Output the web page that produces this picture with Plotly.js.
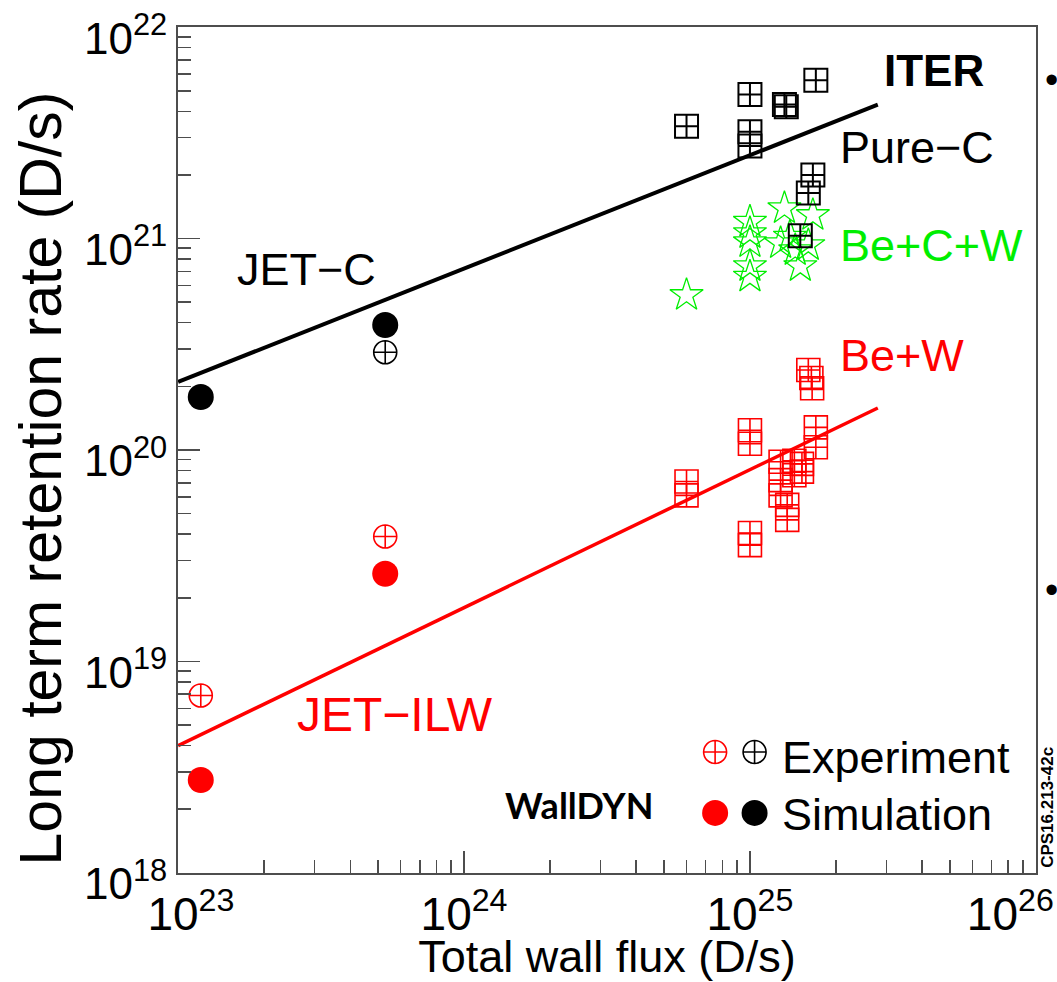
<!DOCTYPE html>
<html>
<head>
<meta charset="utf-8">
<script src="https://cdn.plot.ly/plotly-3.0.1.min.js"></script>
<style>
  html, body { margin: 0; padding: 0; background: #fff; }
  #chart { width: 1057px; height: 982px; }
</style>
</head>
<body>
<div id="chart"></div>
<script>
// ---------------- Data ----------------
// Pure-C experiments (JET-C extrapolated to ITER) - black squares
const pureCx = [6.0e24, 1.0e25, 1.0e25, 1.0e25, 1.32e25, 1.34e25, 1.7e25, 1.66e25, 1.6e25, 1.5e25];
const pureCy = [3.4e21, 4.8e21, 3.2e21, 2.74e21, 4.3e21, 4.2e21, 5.6e21, 2.0e21, 1.64e21, 1.03e21];

// Be+C+W - green stars
const beCWx = [6.0e24, 1.0e25, 1.0e25, 1.0e25, 1.0e25, 1.0e25, 1.32e25, 1.28e25, 1.44e25, 1.5e25, 1.66e25, 1.6e25, 1.38e25];
const beCWy = [5.4e20, 1.2e21, 1.06e21, 9.6e20, 7.4e20, 6.6e20, 1.39e21, 9.5e20, 8.8e20, 7.4e20, 1.29e21, 9.3e20, 1.02e21];

// Be+W - red squares
const beWx = [6.0e24, 6.0e24, 1.0e25, 1.0e25, 1.0e25, 1.0e25, 1.28e25, 1.28e25, 1.28e25, 1.35e25, 1.35e25,
              1.43e25, 1.43e25, 1.52e25, 1.52e25, 1.6e25, 1.64e25, 1.65e25, 1.7e25, 1.7e25];
const beWy = [7.1e19, 6.1e19, 1.24e20, 1.07e20, 4.05e19, 3.55e19, 8.8e19, 7.2e19, 6.1e19, 5.5e19, 4.67e19,
              8.9e19, 7.6e19, 8.6e19, 7.9e19, 2.39e20, 2.19e20, 1.96e20, 1.28e20, 1.03e20];

// JET-C (black) experiment and WallDYN simulation
const jetCExpX = [5.3e23];
const jetCExpY = [2.9e20];
const jetCSimX = [1.2e23, 5.3e23];
const jetCSimY = [1.78e20, 3.9e20];

// JET-ILW (red) experiment and WallDYN simulation
const ilwExpX = [1.2e23, 5.3e23];
const ilwExpY = [6.9e18, 3.9e19];
const ilwSimX = [1.2e23, 5.3e23];
const ilwSimY = [2.75e18, 2.6e19];

// Scaling lines (end points)
const fitX = [1e23, 2.8e25];
const fitCY = [2.1e20, 4.3e21];
const fitILWY = [4.0e18, 1.58e20];

// Axis ticks and their labels (edge labels padded so they sit inside the page, as in the reference)
const NB = '\u00a0';
const xTickVals = [1e23, 1e24, 1e25, 1e26];
const xTickText = [NB + NB + '10<sup>23</sup>', '10<sup>24</sup>', '10<sup>25</sup>', '10<sup>26</sup>' + NB + NB + NB + NB];
const yTickVals = [1e18, 1e19, 1e20, 1e21, 1e22];
const yTickText = ['10<sup>18</sup>', '10<sup>19</sup>', '10<sup>20</sup>', '10<sup>21</sup>', '10<sup>22</sup>'];

// ---------------- Styles ----------------
const RED = '#ff0000';
const BLACK = '#000000';
const GREEN = '#00ee00';
const FONT = 'Liberation Sans, Arial, sans-serif';

const traces = [
  { x: fitX, y: fitCY, mode: 'lines', line: { color: BLACK, width: 4 }, hoverinfo: 'skip' },
  { x: fitX, y: fitILWY, mode: 'lines', line: { color: RED, width: 3.5 }, hoverinfo: 'skip' },
  { x: beWx, y: beWy, mode: 'markers',
    marker: { symbol: 'square-cross-open', size: 23, color: RED, line: { color: RED, width: 1.6 } } },
  { x: beCWx, y: beCWy, mode: 'markers',
    marker: { symbol: 'star-open', size: 25, color: GREEN, line: { color: GREEN, width: 1.3 } } },
  { x: pureCx, y: pureCy, mode: 'markers',
    marker: { symbol: 'square-cross-open', size: 23, color: BLACK, line: { color: BLACK, width: 2 } } },
  { x: jetCExpX, y: jetCExpY, mode: 'markers',
    marker: { symbol: 'circle-cross-open', size: 23, color: BLACK, line: { color: BLACK, width: 1.6 } } },
  { x: jetCSimX, y: jetCSimY, mode: 'markers',
    marker: { symbol: 'circle', size: 26, color: BLACK } },
  { x: ilwExpX, y: ilwExpY, mode: 'markers',
    marker: { symbol: 'circle-cross-open', size: 23, color: RED, line: { color: RED, width: 1.6 } } },
  { x: ilwSimX, y: ilwSimY, mode: 'markers',
    marker: { symbol: 'circle', size: 26, color: RED } },
  // legend keys (drawn on a hidden 0..1 overlay axis)
  { x: [0.626, 0.672], y: [0.143, 0.143], xaxis: 'x2', yaxis: 'y2', mode: 'markers',
    marker: { symbol: 'circle-cross-open', size: 23, color: [RED, BLACK], line: { color: [RED, BLACK], width: 1.6 } } },
  { x: [0.626, 0.672], y: [0.071, 0.071], xaxis: 'x2', yaxis: 'y2', mode: 'markers',
    marker: { symbol: 'circle', size: 26, color: [RED, BLACK] } }
];

const axisCommon = {
  type: 'log',
  showgrid: false,
  zeroline: false,
  showline: true,
  mirror: true,
  linecolor: '#4d4d4d',
  linewidth: 2,
  ticks: 'inside',
  ticklen: 22,
  tickwidth: 1.5,
  tickcolor: '#4d4d4d',
  tickmode: 'array',
  ticklabeloverflow: 'allow',
  minor: { ticks: 'inside', ticklen: 13, tickwidth: 1.5, tickcolor: '#4d4d4d', dtick: 'D1', showgrid: false }
};

function ann(text, x, y, opts) {
  return Object.assign({
    text: text, x: x, y: y, xref: 'paper', yref: 'paper',
    xanchor: 'left', yanchor: 'middle', showarrow: false,
    font: { family: FONT, size: 45, color: BLACK }
  }, opts || {});
}

const layout = {
  width: 1057, height: 982,
  margin: { l: 178, r: 21, t: 27, b: 109 },
  paper_bgcolor: '#fff', plot_bgcolor: '#fff',
  showlegend: false,
  xaxis: Object.assign({}, axisCommon, {
    range: [22.9995, 26.0005],
    tickvals: xTickVals,
    ticktext: xTickText,
    tickfont: { family: FONT, size: 46, color: BLACK },
    title: { text: 'Total wall flux (D/s)', font: { family: FONT, size: 45, color: BLACK }, standoff: 9 }
  }),
  yaxis: Object.assign({}, axisCommon, {
    range: [17.9995, 22.0005],
    tickvals: yTickVals,
    ticktext: yTickText,
    ticklabelshift: 11,
    tickfont: { family: FONT, size: 44, color: BLACK }
  }),
  xaxis2: { overlaying: 'x', anchor: 'y2', range: [0, 1], visible: false },
  yaxis2: { overlaying: 'y', anchor: 'x2', range: [0, 1], visible: false },
  annotations: [
    ann('Long term retention rate (D/s)', -0.160, 0.466, { xanchor: 'center', textangle: -90, font: { family: FONT, size: 59, color: BLACK } }),
    ann('<b>ITER</b>', 0.820, 0.949, { font: { family: FONT, size: 44, color: BLACK } }),
    ann('Pure−C', 0.769, 0.857),
    ann('Be+C+W', 0.769, 0.742, { font: { family: FONT, size: 45, color: GREEN } }),
    ann('Be+W', 0.769, 0.612, { font: { family: FONT, size: 45, color: RED } }),
    ann('JET−C', 0.066, 0.713),
    ann('JET−ILW', 0.136, 0.187, { font: { family: FONT, size: 48, color: RED } }),
    ann('<b>WallDYN</b>', 0.379, 0.080, { font: { family: 'Lato, Open Sans, sans-serif', size: 36, color: BLACK } }),
    ann('Experiment', 0.702, 0.137),
    ann('Simulation', 0.702, 0.069),
    ann('<b>CPS16.213-42c</b>', 1.014, 0.077, { xanchor: 'center', textangle: -90, font: { family: FONT, size: 17, color: BLACK } }),
    ann('•', 1.018, 0.937, { xanchor: 'center', font: { family: FONT, size: 38, color: BLACK } }),
    ann('•', 1.018, 0.335, { xanchor: 'center', font: { family: FONT, size: 38, color: BLACK } })
  ]
};

Plotly.newPlot('chart', traces, layout, { staticPlot: true, displayModeBar: false });
</script>
</body>
</html>
